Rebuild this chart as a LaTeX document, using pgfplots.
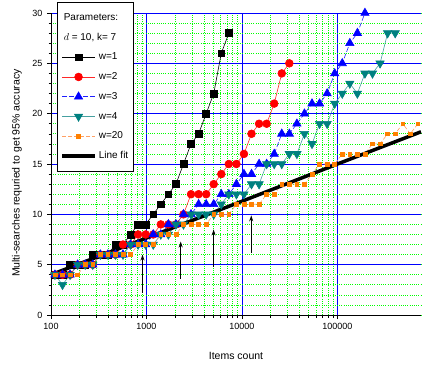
\documentclass[border=0pt]{standalone}
\usepackage{fontspec}
\setmainfont{Liberation Sans}
\usepackage{pgfplots}
\usepackage{pgfplotstable}
\pgfplotsset{compat=1.18}
\usetikzlibrary{arrows.meta}
\definecolor{tealm}{RGB}{0,128,128}
\definecolor{teall}{RGB}{70,160,160}
\definecolor{orangem}{RGB}{255,128,0}
\definecolor{orangel}{RGB}{255,160,100}
\definecolor{redl}{RGB}{255,40,40}
\definecolor{bluel}{RGB}{30,30,255}
\definecolor{gridgreen}{RGB}{0,255,0}
\definecolor{gridblue}{RGB}{0,0,255}

\pgfplotstableread{
x w1 w2 w3 w4 w20
110 4 4 4 4 4
132 4 4 4 3 4
158.4 5 4 4 4 4
190.1 5 5 5 5 4
228.1 5 5 5 5 5
273.7 6 5 5 5 5
328.5 6 6 6 6 6
394.2 6 6 6 6 6
473.0 7 6 6 6 6
567.6 7 7 6 6 6
681.1 8 7 7 7 6
817.3 9 8 7 7 7
980.8 9 8 7 7 7
1177 10 8 8 7 7
1412 11 9 8 8 8
1695 12 9 9 8 8
2034 13 9 9 9 8
2440 15 10 10 9 9
2928 17 12 10 10 9
3514 18 12 11 10 9
4217 20 12 11 10 9
5060 22 13 11 10 10
6072 26 14 12 11 10
7287 28 15 12 12 10
8744 nan 15 13 12 11
10493 nan 16 14 12 11
12591 nan 18 14 13 11
15110 nan 19 15 13 11
18131 nan 19 15 15 12
21758 nan 21 16 15 12
26109 nan 24 18 15 13
31331 nan 25 18 16 13
37597 nan nan 19 16 13
45117 nan nan 20 18 13
54140 nan nan 21 17 14
64968 nan nan 21 19 15
77962 nan nan 22 19 15
93554 nan nan 24 21 15
112265 nan nan 25 22 16
134718 nan nan 27 23 16
161662 nan nan 28 22 16
193994 nan nan 30 24 16
232793 nan nan nan 24 17
279351 nan nan nan 25 17
335222 nan nan nan 28 18
402266 nan nan nan 28 18
482719 nan nan nan nan 19
579263 nan nan nan nan 18
695116 nan nan nan nan 19
}\data

\pgfplotstableread{
x y
100 4.0
1000 7.65
10000 11.3
100000 15.0
750000 18.2
}\fit

\begin{document}
\begin{tikzpicture}
\begin{axis}[
  scale only axis, width=370pt, height=302pt,
  xmode=log, xmin=100, xmax=750000, ymin=0, ymax=30,
  axis x line*=bottom, axis y line*=left,
  axis line style={black, line width=0.7pt},
  xtick={100,1000,10000,100000}, xticklabels={100,1000,10000,100000},
  ytick={0,5,...,30}, minor ytick={0,1,...,30},
  xmajorgrids, ymajorgrids, xminorgrids, yminorgrids,
  major grid style={gridblue, line width=0.6pt},
  minor grid style={gridgreen, line width=0.7pt, dash pattern=on 1pt off 1.2pt},
  tick align=outside, major tick length=4pt, minor tick length=2.5pt,
  tick style={black, line width=0.6pt},
  /pgf/number format/assume math mode=true,
  ticklabel style={font=\fontsize{9}{10}\selectfont},
  xticklabel style={yshift=-1pt},
  yticklabel style={xshift=-1pt},
  label style={font=\fontsize{10.5}{12}\selectfont},
  xlabel={Items count},
  ylabel={Multi-searches requried to get 95\% accuracy},
  xlabel style={at={(axis description cs:0.5,-0.135)}, anchor=center},
  ylabel style={at={(axis description cs:-0.092,0.47)}, anchor=center},
  clip=false,
  legend style={at={(0,1)}, anchor=north west, xshift=6pt, yshift=11pt,
    draw=black, line width=0.6pt, fill=white, font=\fontsize{10}{12}\selectfont,
    row sep=7.3pt, inner xsep=3pt, inner ysep=9pt},
  legend cell align=left,
  legend image code/.code={\draw[mark repeat=2,mark phase=2] plot coordinates {(0cm,0cm) (0.58cm,0cm) (1.16cm,0cm)};},
]
\addlegendimage{empty legend}
\addlegendentry{\hspace{-35pt}Parameters:}
\addlegendimage{empty legend}
\addlegendentry{\hspace{-35pt}$d$ = 10, $\mathrm{k}$= 7}

\addplot[black, line width=0.6pt, mark=square*, mark size=3.4pt, mark options={solid, fill=black}] table[x=x, y=w1] {\data};
\addlegendentry{w=1}
\addplot[redl, line width=0.6pt, mark=*, mark size=3.9pt, mark options={solid, fill=red, draw=red}] table[x=x, y=w2] {\data};
\addlegendentry{w=2}
\addplot[bluel, line width=0.6pt, dash pattern=on 5pt off 2pt, mark=triangle*, mark size=4.8pt, mark options={solid, fill=blue, draw=blue}] table[x=x, y=w3] {\data};
\addlegendentry{w=3}
\addplot[teall, line width=0.6pt, mark=triangle*, mark size=4.8pt, mark options={solid, fill=tealm, draw=tealm, rotate=180}] table[x=x, y=w4] {\data};
\addlegendentry{w=4}
\addplot[orangel, line width=0.6pt, dash pattern=on 4pt off 2pt, mark=square*, mark size=1.9pt, mark options={solid, fill=orangem, draw=orangem}] table[x=x, y=w20] {\data};
\addlegendentry{w=20}
\addplot[black, line width=3.5pt, no markers] table[x=x, y=y] {\fit};
\addlegendentry{Line fit}

\draw[-{Stealth[length=6pt,width=4pt]}, line width=1pt] (axis cs:908,2.2) -- (axis cs:908,6.0);
\draw[-{Stealth[length=6pt,width=4pt]}, line width=1pt] (axis cs:2281,3.6) -- (axis cs:2281,7.3);
\draw[-{Stealth[length=6pt,width=4pt]}, line width=1pt] (axis cs:5047,4.8) -- (axis cs:5047,8.5);
\draw[-{Stealth[length=6pt,width=4pt]}, line width=1pt] (axis cs:12500,6.2) -- (axis cs:12500,9.9);
\end{axis}
\pgfresetboundingbox
\path[use as bounding box] (-51pt,-50pt) rectangle (375pt,315pt);
\end{tikzpicture}
\end{document}
